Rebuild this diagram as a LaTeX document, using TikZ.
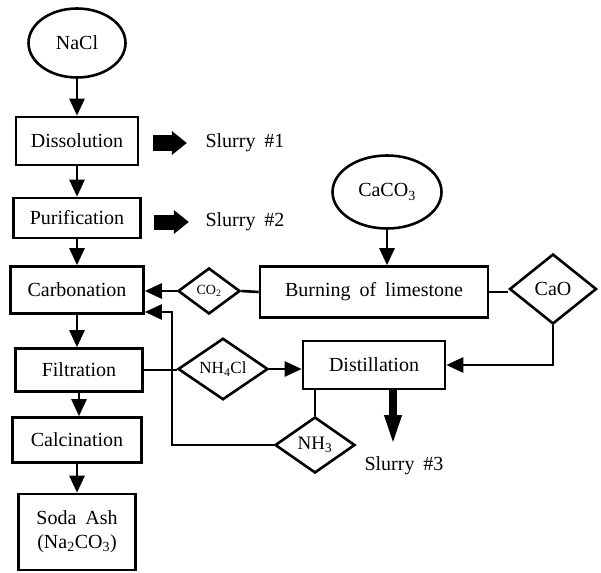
\documentclass[tikz,border=0pt]{standalone}
\usepackage{fontspec}
\setmainfont{Liberation Serif}
\usetikzlibrary{shapes.geometric,arrows.meta}

\newcommand{\bigtext}{\fontsize{20}{24}\selectfont\spaceskip=0.45em\relax}
\tikzset{
  proc/.style={draw,line width=2.6pt,inner sep=0pt,font=\bigtext},
  feed/.style={draw,ellipse,line width=2.6pt,inner sep=0pt,font=\bigtext},
  gas/.style={draw,diamond,line width=2.6pt,inner sep=0pt},
  waste/.style={line width=15pt,-{Triangle[length=15pt,width=23pt]}},
  label/.style={font=\bigtext}
}

\begin{document}
\begin{tikzpicture}[x=1pt,y=-1pt,line width=2.6pt,>={Triangle[length=17pt,width=15pt]}]
\useasboundingbox (0,0) rectangle (601,572);
% main column
\node[feed,minimum width=97,minimum height=69] (nacl) at (77,43) {NaCl};
\node[proc,minimum width=122,minimum height=48] (dis) at (77,141) {Dissolution};
\node[proc,minimum width=127,minimum height=40] (pur) at (77,218) {Purification};
\node[proc,minimum width=133,minimum height=47] (carb) at (77,290) {Carbonation};
\node[proc,minimum width=127,minimum height=43] (filt) at (79,370) {Filtration};
\node[proc,minimum width=129,minimum height=45] (calc) at (77,440) {Calcination};
\node[proc,minimum width=117,minimum height=76,align=center] (soda) at (77,532)
  {Soda Ash\\(Na\textsubscript{2}CO\textsubscript{3})};
\draw[->] (nacl.south) -- (nacl.south |- dis.north);
\draw[->] (dis.south) -- (dis.south |- pur.north);
\draw[->] (pur.south) -- (pur.south |- carb.north);
\draw[->] (carb.south) -- (carb.south |- filt.north);
\draw[->] (filt.south) -- (filt.south |- calc.north);
\draw[->] (calc.south) -- (calc.south |- soda.north);
% slurries
\node[label] (s1) at (245,143) {Slurry \#1};
\node[label] (s2) at (245,222) {Slurry \#2};
\node[label] (s3) at (404,466) {Slurry \#3};
\draw[waste] ([xshift=14]dis.east |- s1.west) -- ([xshift=-14]s1.west);
\draw[waste] ([xshift=12]pur.east |- s2.west) -- ([xshift=-12]s2.west);
% lime kiln
\node[feed,minimum width=109,minimum height=73] (caco3) at (387,192) {CaCO\textsubscript{3}};
\node[proc,minimum width=228,minimum height=51] (burn) at (374,292) {Burning of limestone};
\node[gas,minimum width=62,minimum height=46,font=\fontsize{14}{16}\selectfont] (co2) at (209,291) {CO\textsubscript{2}};
\node[gas,minimum width=87,minimum height=70,font=\fontsize{20}{24}\selectfont] (cao) at (553,289) {CaO};
\draw[->] (caco3.south) -- (caco3.south |- burn.north);
\draw (burn.west) -- (co2.east);
\draw[->] (co2.west) -- (co2.west -| carb.east);
\draw (burn.east) -- (burn.east -| cao.west);
% distillation
\node[proc,minimum width=142,minimum height=48] (dist) at (374,365) {Distillation};
\node[gas,minimum width=90,minimum height=55,font=\fontsize{17}{20}\selectfont] (nh4cl) at (223,369) {NH\textsubscript{4}Cl};
\node[gas,minimum width=80,minimum height=56,font=\fontsize{19}{22}\selectfont] (nh3) at (315,445) {NH\textsubscript{3}};
\draw (filt.east) -- (filt.east -| nh4cl.west);
\draw[->] (nh4cl.east) -- (nh4cl.east -| dist.west);
\draw[->] (cao.south) |- (dist.east);
\draw (nh3.north) -- (nh3.north |- dist.south);
\coordinate (ret) at (172,312);
\draw[->] (nh3.west) -| (ret) -- (ret -| carb.east);
\coordinate (s3tip) at (393,447);
\draw[line width=8pt,-{Triangle[length=32pt,width=15pt]}] (s3tip |- dist.south) -- (s3tip);
\end{tikzpicture}
\end{document}
